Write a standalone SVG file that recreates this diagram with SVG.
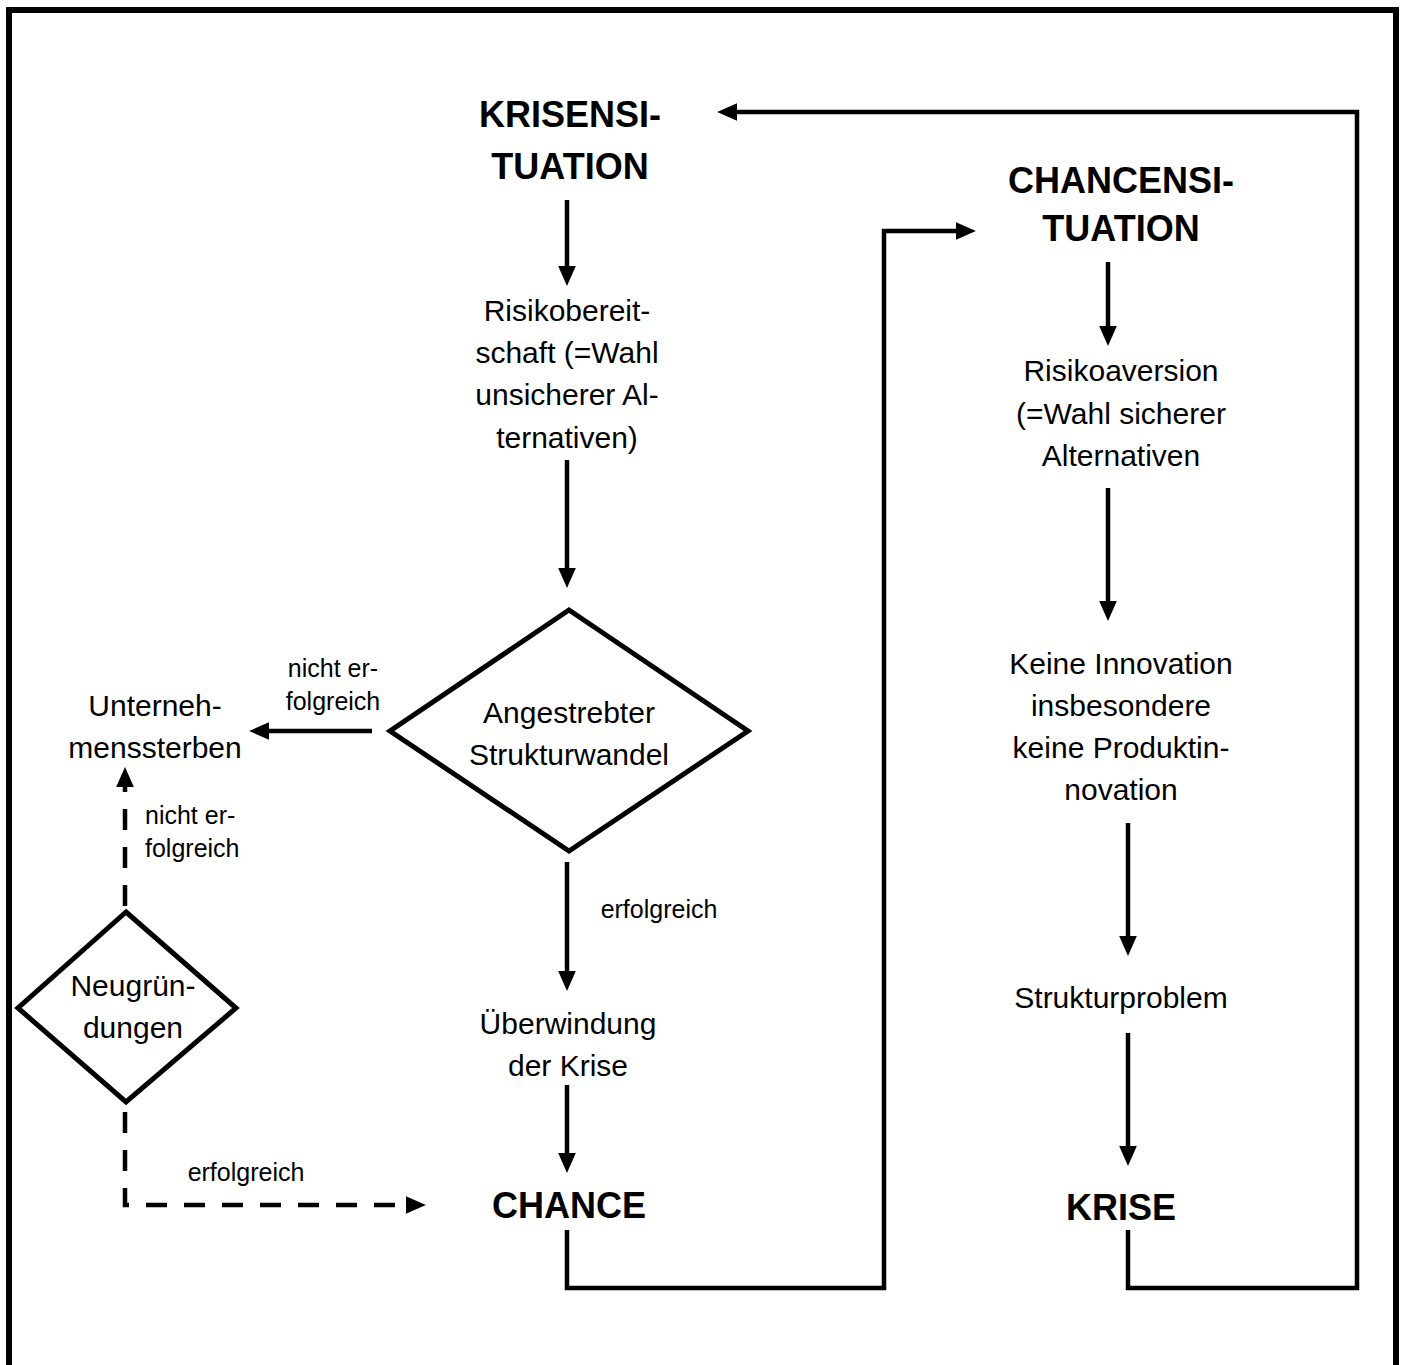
<svg xmlns="http://www.w3.org/2000/svg" width="1404" height="1365" viewBox="0 0 1404 1365">
<style>
text{font-family:"Liberation Sans",Arial,sans-serif;fill:#000;text-anchor:middle}
.b{font-weight:bold;font-size:36px}
.r{font-size:30px}
.s{font-size:25px}
.sl{font-size:25px;text-anchor:start}
.ln{fill:none;stroke:#000;stroke-width:4.5;stroke-linejoin:miter}
.da{stroke-dasharray:21 17}
.sh{fill:#fff;stroke:#000;stroke-width:5}
</style>
<defs>
<marker id="ah" markerUnits="userSpaceOnUse" markerWidth="20" markerHeight="18" refX="10" refY="8" orient="auto" viewBox="0 0 18 16">
<path d="M0,0 L18,8 L0,16 z" fill="#000"/>
</marker>
</defs>
<rect x="9" y="10" width="1387" height="1380" fill="none" stroke="#000" stroke-width="6"/>
<g id="connectors">
<path class="ln" d="M567,200 V277" marker-end="url(#ah)"/>
<path class="ln" d="M567,460 V579" marker-end="url(#ah)"/>
<path class="ln" d="M372,731 H258" marker-end="url(#ah)"/>
<path class="ln" d="M567,862 V982" marker-end="url(#ah)"/>
<path class="ln" d="M567,1085 V1164" marker-end="url(#ah)"/>
<path class="ln" d="M567,1230 V1288 H884 V231 H967" marker-end="url(#ah)"/>
<path class="ln" d="M1108,262 V337" marker-end="url(#ah)"/>
<path class="ln" d="M1108,488 V612" marker-end="url(#ah)"/>
<path class="ln" d="M1128,823 V947" marker-end="url(#ah)"/>
<path class="ln" d="M1128,1033 V1157" marker-end="url(#ah)"/>
<path class="ln" d="M1128,1230 V1288 H1357 V112 H726" marker-end="url(#ah)"/>
<path class="ln da" d="M125,906 V776" marker-end="url(#ah)"/>
<path class="ln da" d="M125,1112 V1205 H417" marker-end="url(#ah)"/>
</g>
<g id="krisensituation">
<text class="b" x="570" y="127">KRISENSI-</text>
<text class="b" x="570" y="179">TUATION</text>
</g>
<g id="risikobereitschaft">
<text class="r" x="567" y="321">Risikobereit-</text>
<text class="r" x="567" y="363">schaft (=Wahl</text>
<text class="r" x="567" y="405">unsicherer Al-</text>
<text class="r" x="567" y="448">ternativen)</text>
</g>
<g id="strukturwandel">
<polygon class="sh" points="569,610 748,731 569,851 390,731"/>
<text class="r" x="569" y="723">Angestrebter</text>
<text class="r" x="569" y="765">Strukturwandel</text>
</g>
<g id="label-nicht1">
<text class="s" x="333" y="677">nicht er-</text>
<text class="s" x="333" y="710">folgreich</text>
</g>
<g id="unternehmenssterben">
<text class="r" x="155" y="716">Unterneh-</text>
<text class="r" x="155" y="758">menssterben</text>
</g>
<g id="label-nicht2">
<text class="sl" x="145" y="824">nicht er-</text>
<text class="sl" x="145" y="857">folgreich</text>
</g>
<g id="neugruendungen">
<polygon class="sh" points="126,912 236,1008 126,1102 18,1008"/>
<text class="r" x="133" y="996">Neugrün-</text>
<text class="r" x="133" y="1038">dungen</text>
</g>
<g id="label-erfolg1">
<text class="s" x="659" y="918">erfolgreich</text>
</g>
<g id="label-erfolg2">
<text class="s" x="246" y="1181">erfolgreich</text>
</g>
<g id="ueberwindung">
<text class="r" x="568" y="1034">Überwindung</text>
<text class="r" x="568" y="1076">der Krise</text>
</g>
<g id="chance">
<text class="b" x="569" y="1218">CHANCE</text>
</g>
<g id="chancensituation">
<text class="b" x="1121" y="193">CHANCENSI-</text>
<text class="b" x="1121" y="241">TUATION</text>
</g>
<g id="risikoaversion">
<text class="r" x="1121" y="381">Risikoaversion</text>
<text class="r" x="1121" y="424">(=Wahl sicherer</text>
<text class="r" x="1121" y="466">Alternativen</text>
</g>
<g id="keineinnovation">
<text class="r" x="1121" y="674">Keine Innovation</text>
<text class="r" x="1121" y="716">insbesondere</text>
<text class="r" x="1121" y="758">keine Produktin-</text>
<text class="r" x="1121" y="800">novation</text>
</g>
<g id="strukturproblem">
<text class="r" x="1121" y="1008">Strukturproblem</text>
</g>
<g id="krise">
<text class="b" x="1121" y="1220">KRISE</text>
</g>
</svg>
